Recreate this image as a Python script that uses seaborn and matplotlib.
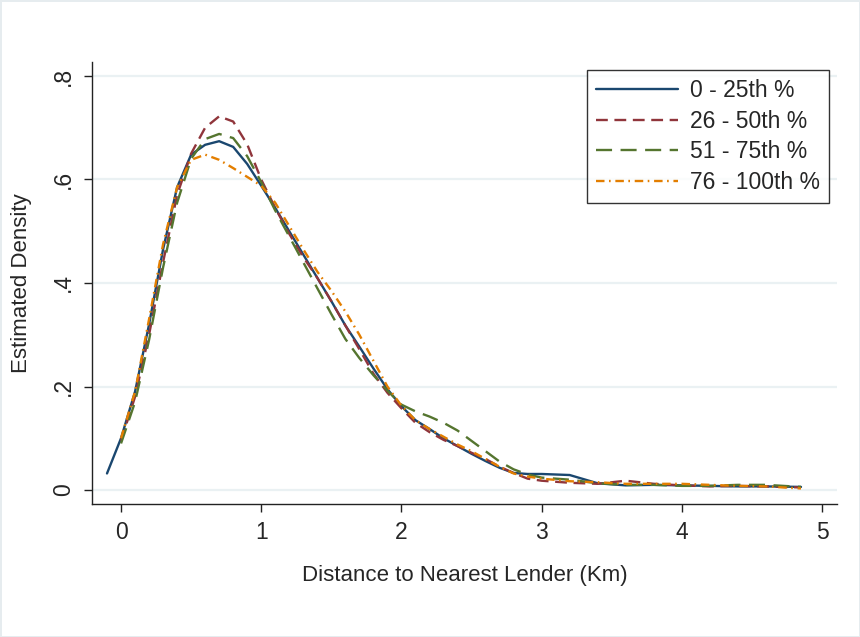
import numpy as np
import pandas as pd
import matplotlib
matplotlib.use("Agg")
import matplotlib.pyplot as plt
import seaborn as sns

# ---- data ----
dist_km = [-0.1, 0.0, 0.1, 0.2, 0.3, 0.4, 0.5, 0.6, 0.7, 0.8, 0.9, 1.0,
           1.1, 1.2, 1.3, 1.4, 1.5, 1.6, 1.7, 1.8, 1.9, 2.0, 2.1, 2.2,
           2.3, 2.4, 2.5, 2.6, 2.7, 2.8, 2.9, 3.0, 3.2, 3.4, 3.6, 3.8,
           4.0, 4.2, 4.4, 4.6, 4.85]

q1_density = [0.032, 0.10, 0.19, 0.32, 0.465, 0.585, 0.648, 0.667, 0.674, 0.663, 0.630, 0.588,
              0.545, 0.500, 0.455, 0.410, 0.365, 0.318, 0.277, 0.235, 0.195, 0.162, 0.135, 0.118,
              0.100, 0.085, 0.070, 0.056, 0.043, 0.033, 0.031, 0.031, 0.029, 0.013, 0.009, 0.010,
              0.009, 0.008, 0.007, 0.007, 0.006]

q2_density = [np.nan, 0.095, 0.18, 0.30, 0.44, 0.57, 0.650, 0.700, 0.722, 0.712, 0.668, 0.600,
              0.545, 0.495, 0.450, 0.410, 0.365, 0.318, 0.272, 0.225, 0.188, 0.158, 0.130, 0.112,
              0.097, 0.085, 0.072, 0.060, 0.045, 0.033, 0.022, 0.018, 0.014, 0.012, 0.018, 0.012,
              0.009, 0.007, 0.008, 0.007, 0.005]

q3_density = [np.nan, 0.09, 0.17, 0.29, 0.43, 0.555, 0.640, 0.678, 0.688, 0.680, 0.645, 0.595,
              0.540, 0.490, 0.440, 0.390, 0.340, 0.292, 0.255, 0.222, 0.192, 0.165, 0.152, 0.142,
              0.130, 0.115, 0.095, 0.075, 0.055, 0.040, 0.030, 0.024, 0.020, 0.013, 0.010, 0.010,
              0.008, 0.008, 0.010, 0.010, 0.006]

q4_density = [np.nan, 0.10, 0.19, 0.33, 0.475, 0.585, 0.638, 0.648, 0.638, 0.622, 0.605, 0.588,
              0.555, 0.510, 0.465, 0.422, 0.385, 0.345, 0.300, 0.250, 0.200, 0.163, 0.135, 0.118,
              0.103, 0.088, 0.075, 0.060, 0.045, 0.032, 0.026, 0.022, 0.017, 0.015, 0.012, 0.012,
              0.012, 0.010, 0.008, 0.007, 0.003]

series_labels = ["0 - 25th %", "26 - 50th %", "51 - 75th %", "76 - 100th %"]
x_ticks = [0, 1, 2, 3, 4, 5]
y_ticks = [0, 0.2, 0.4, 0.6, 0.8]
y_tick_labels = ["0", ".2", ".4", ".6", ".8"]

# ---- styling ----
colors = ["#1a476f", "#90353b", "#55752f", "#e37e00"]
dash_patterns = [None, (5.0, 2.8), (6.8, 3.6), (3.6, 1.9, 0.7, 2.0)]

sns.set_theme(style="white")
plt.rcParams["font.family"] = ["Liberation Sans", "DejaVu Sans"]

fig = plt.figure(figsize=(8.6, 6.37), dpi=100)
fig.patch.set_facecolor("white")
fig.patch.set_edgecolor("#e6ecef")
fig.patch.set_linewidth(1.0)
ax = fig.add_axes([92 / 860, (637 - 504) / 637, 745 / 860, 442 / 637])

all_series = [q1_density, q2_density, q3_density, q4_density]
for vals, lab, col, dsh in zip(all_series, series_labels, colors, dash_patterns):
    df = pd.DataFrame({"x": dist_km, "y": vals}).dropna()
    sns.lineplot(data=df, x="x", y="y", ax=ax, sort=False,
                 color=col, linewidth=1.7, label=lab)
    ln = ax.lines[-1]
    if dsh is not None:
        ln.set_dashes(dsh)

ax.set_xlim(-0.207, 5.107)
ax.set_ylim(-0.027, 0.827)
ax.set_xticks(x_ticks)
ax.set_xticklabels([str(t) for t in x_ticks])
ax.set_yticks(y_ticks)
ax.set_yticklabels(y_tick_labels, rotation=90, va="center")

ax.grid(axis="y", color="#eaf1f3", linewidth=1.6)
ax.grid(axis="x", visible=False)
ax.set_axisbelow(True)

for s in ["top", "right"]:
    ax.spines[s].set_visible(False)
for s in ["left", "bottom"]:
    ax.spines[s].set_color("#222222")
    ax.spines[s].set_linewidth(1.0)

ax.tick_params(axis="both", which="major", direction="out", length=6,
               width=1.0, color="#222222", labelsize=16.5, pad=6,
               left=True, bottom=True)

ax.set_xlabel("Distance to Nearest Lender (Km)", fontsize=16, labelpad=15)
ax.set_ylabel("Estimated Density", fontsize=16, labelpad=15)

leg = ax.legend(loc="upper right", bbox_to_anchor=(0.989, 0.982), borderaxespad=0,
                fontsize=16.5, frameon=True, fancybox=False, handlelength=3.6,
                handletextpad=0.5, labelspacing=0.33, borderpad=0.4)
leg.get_frame().set_edgecolor("black")
leg.get_frame().set_linewidth(1.0)

fig.savefig("out.png", dpi=100, facecolor="white", edgecolor=fig.get_edgecolor())
